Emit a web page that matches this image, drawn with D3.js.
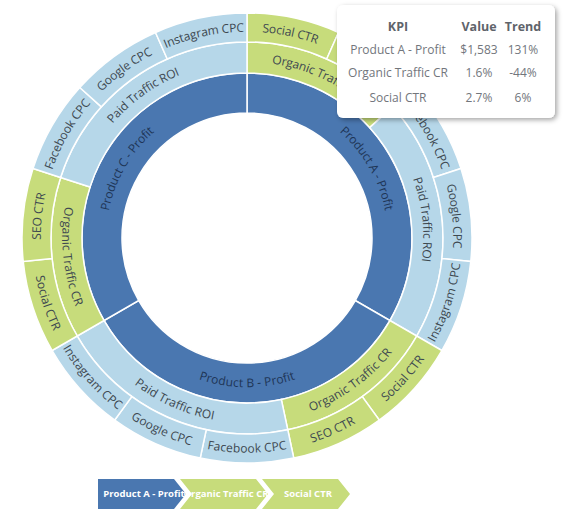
<!DOCTYPE html>
<html>
<head>
<meta charset="utf-8">
<script src="https://cdn.jsdelivr.net/npm/d3@7"></script>
<style>
  html, body { margin: 0; padding: 0; background: #ffffff; }
  svg { display: block; font-family: "Open Sans", "Noto Sans", sans-serif; }
</style>
</head>
<body>
<svg id="chart" width="573" height="525"></svg>
<script>
// ---------- data ----------
const products = ["Product A - Profit", "Product B - Profit", "Product C - Profit"];
const channels = ["Organic Traffic CR", "Paid Traffic ROI"];
const organicMetrics = ["Social CTR", "SEO CTR"];
const organicValues = [1, 1];
const paidMetrics = ["Facebook CPC", "Google CPC", "Instagram CPC"];
const paidValues = [1, 1, 1];

const tipHeaders = ["KPI", "Value", "Trend"];
const tipKPI = ["Product A - Profit", "Organic Traffic CR", "Social CTR"];
const tipValue = ["$1,583", "1.6%", "2.7%"];
const tipTrend = ["131%", "-44%", "6%"];

const crumbs = ["Product A - Profit", "Organic Traffic CR", "Social CTR"];

// ---------- styling ----------
const colProduct = "#4a77b0";
const colOrganic = "#c7dc7b";
const colPaid = "#b6d7e9";
const cx = 247, cy = 238;

// ---------- hierarchy ----------
const metricSets = [
  organicMetrics.map((m, i) => ({ name: m, value: organicValues[i] })),
  paidMetrics.map((m, i) => ({ name: m, value: paidValues[i] }))
];
const rootData = {
  name: "root",
  children: products.map(p => ({
    name: p,
    children: channels.map((c, ci) => ({
      name: c, kind: ci,
      children: metricSets[ci].map(d => ({ name: d.name, value: d.value, kind: ci }))
    }))
  }))
};
const root = d3.hierarchy(rootData).sum(d => d.value || 0);
d3.partition().size([2 * Math.PI, 4])(root);

const rScale = d3.scaleLinear().domain([1, 2, 3, 4]).range([125, 165, 196, 225]);

const arc = d3.arc()
  .startAngle(d => d.x0)
  .endAngle(d => d.x1)
  .innerRadius(d => rScale(d.y0))
  .outerRadius(d => rScale(d.y1));

function fillOf(d) {
  if (d.depth === 1) return colProduct;
  return d.data.kind === 0 ? colOrganic : colPaid;
}

const svg = d3.select("#chart");
const defs = svg.append("defs");
const g = svg.append("g").attr("transform", `translate(${cx},${cy})`);

const nodes = root.descendants().filter(d => d.depth > 0);

g.selectAll("path.seg")
  .data(nodes)
  .join("path")
  .attr("class", "seg")
  .attr("d", arc)
  .attr("fill", fillOf)
  .attr("stroke", "#ffffff")
  .attr("stroke-width", 1.5);

// label paths along the ring mid-line
function labelPath(d) {
  const r = (rScale(d.y0) + rScale(d.y1)) / 2;
  const a0 = d.x0, a1 = d.x1;
  const mid = (a0 + a1) / 2;
  const p = a => [r * Math.sin(a), -r * Math.cos(a)];
  const large = (a1 - a0) > Math.PI ? 1 : 0;
  if (mid > Math.PI / 2 && mid < 3 * Math.PI / 2) {
    const s = p(a1), e = p(a0);
    return `M${s[0]},${s[1]}A${r},${r} 0 ${large} 0 ${e[0]},${e[1]}`;
  }
  const s = p(a0), e = p(a1);
  return `M${s[0]},${s[1]}A${r},${r} 0 ${large} 1 ${e[0]},${e[1]}`;
}

nodes.forEach((d, i) => {
  defs.append("path").attr("id", "lp" + i).attr("d", labelPath(d));
});

g.selectAll("text.lbl")
  .data(nodes)
  .join("text")
  .attr("class", "lbl")
  .attr("dy", "0.35em")
  .attr("font-size", 12)
  .attr("fill", d => d.depth === 1 ? "#1e3556" : "#3d4850")
  .append("textPath")
  .attr("href", (d, i) => "#lp" + i)
  .attr("startOffset", "50%")
  .attr("text-anchor", "middle")
  .text(d => d.data.name);

// ---------- breadcrumb ----------
const bw = 76, bh = 30, bt = 12, bstep = 82, bx = 98, by = 479;
const crumbColors = [colProduct, colOrganic, colOrganic];
const bc = svg.append("g");
function crumbPoints(i) {
  const pts = [[0, 0], [bw, 0], [bw + bt, bh / 2], [bw, bh], [0, bh]];
  if (i > 0) pts.push([bt, bh / 2]);
  return pts.map(p => p.join(",")).join(" ");
}
const cg = bc.selectAll("g").data(crumbs).join("g")
  .attr("transform", (d, i) => `translate(${bx + i * bstep},${by})`);
cg.append("polygon").attr("points", (d, i) => crumbPoints(i))
  .attr("fill", (d, i) => crumbColors[i]);
cg.append("text")
  .attr("x", (bw + bt) / 2 + 2)
  .attr("y", bh / 2)
  .attr("dy", "0.35em")
  .attr("text-anchor", "middle")
  .attr("font-size", 9.5)
  .attr("font-weight", "bold")
  .attr("fill", "#ffffff")
  .text(d => d);

// ---------- tooltip ----------
const filt = defs.append("filter").attr("id", "shadow")
  .attr("x", "-10%").attr("y", "-10%").attr("width", "130%").attr("height", "140%");
filt.append("feDropShadow").attr("dx", 2).attr("dy", 2).attr("stdDeviation", 2.5)
  .attr("flood-color", "#000").attr("flood-opacity", 0.35);

const tip = svg.append("g");
tip.append("rect")
  .attr("x", 337).attr("y", 5).attr("width", 218).attr("height", 113)
  .attr("rx", 6).attr("ry", 6)
  .attr("fill", "#ffffff")
  .attr("filter", "url(#shadow)");

const colX = [398, 479, 523];
const rowY = [31, 54, 77, 102];
tip.selectAll("text.hdr").data(tipHeaders).join("text")
  .attr("class", "hdr")
  .attr("x", (d, i) => colX[i]).attr("y", rowY[0])
  .attr("text-anchor", "middle")
  .attr("font-size", 12.5).attr("font-weight", "bold")
  .attr("fill", "#5f646b")
  .text(d => d);

const rows = tipKPI.map((k, i) => [k, tipValue[i], tipTrend[i]]);
rows.forEach((row, ri) => {
  tip.selectAll("text.r" + ri).data(row).join("text")
    .attr("class", "r" + ri)
    .attr("x", (d, i) => colX[i]).attr("y", rowY[ri + 1])
    .attr("text-anchor", "middle")
    .attr("font-size", 12)
    .attr("fill", "#72767c")
    .text(d => d);
});
</script>
</body>
</html>
